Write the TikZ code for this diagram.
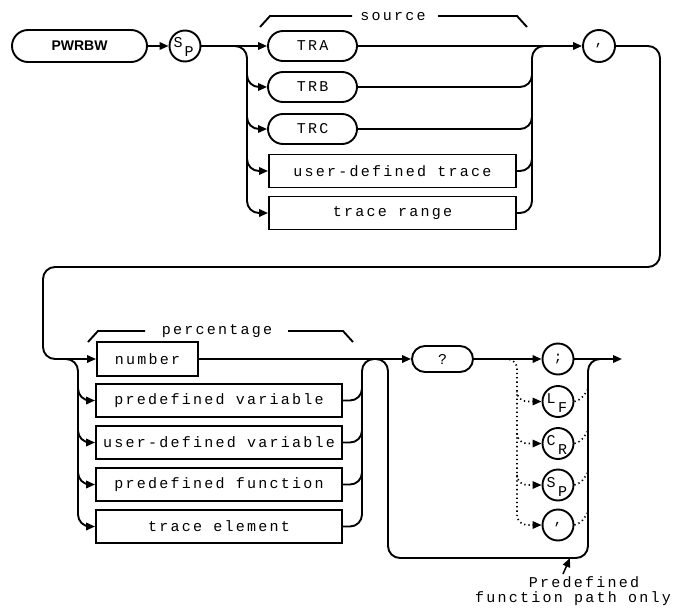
\documentclass[tikz,border=0pt]{standalone}
\usepackage{fontspec}
\usetikzlibrary{arrows.meta,shapes.misc}
\newfontfamily\hp[LetterSpace=15]{Liberation Mono}
\newfontfamily\hpn{Liberation Mono}
\newfontfamily\kwfont{Liberation Sans}
\begin{document}
\begin{tikzpicture}[x=1pt,y=-1pt,line width=1.9pt,
  lbl/.style={font=\hp\fontsize{15}{15}\selectfont},
  box/.style={draw,rectangle,minimum height=33pt,inner sep=0pt,lbl},
  rbox/.style={draw,rounded rectangle,minimum height=30pt,inner sep=0pt,lbl},
  circ/.style={draw,circle,minimum size=31pt,inner sep=0pt,font=\hpn\fontsize{14}{14}\selectfont},
  sym/.style={inner sep=0pt,font=\hpn\fontsize{15}{15}\selectfont},
  arr/.style={-{Triangle[length=9pt,width=7.5pt]}},
  dotln/.style={line width=1.6pt,dash pattern=on 1.3pt off 3pt},
  rc/.style={rounded corners=12pt}]
\useasboundingbox (0,0) rectangle (676,610);

% ---------- top section ----------
\node[draw,rounded rectangle,minimum width=135pt,minimum height=32pt,inner sep=0pt,
      font=\kwfont\bfseries\fontsize{14}{14}\selectfont] (pwrbw) at (79.5,46) {PWRBW};
\node[circ] (sp1) at (185,46) {};
\node[sym] (sp1a) at ([shift={(-7,-3)}]sp1.center) {S};
\node[sym] (sp1b) at ([shift={(4,6)}]sp1.center) {P};
\node[rbox,minimum width=89pt] (tra) at (312.5,46) {TRA};
\node[rbox,minimum width=89pt] (trb) at (312.5,87) {TRB};
\node[rbox,minimum width=89pt] (trc) at (312.5,129) {TRC};
\node[box,minimum width=247pt] (udt) at (392.5,171) {user-defined trace};
\node[box,minimum width=247pt] (trr) at (392.5,213) {trace range};
\node[circ,minimum size=32pt] (cm1) at (599,46) {,};

\node[lbl] (srclbl) at (393,17) {source};
\draw (260,27) -- (270,16) -- (352,16);
\draw (438,16) -- (517,16) -- (527,27);

\draw[arr] (pwrbw) -- (sp1);
\draw[arr] (sp1) -- (tra);
\draw[arr,rc] (235,46) -| (247,213) -- (trr.west);
\draw[arr,rc] (247,75) |- (trb.west);
\draw[arr,rc] (247,117) |- (trc.west);
\draw[arr,rc] (247,159) |- (udt.west);
\draw[rc] (trr.east) -| (532,46) -- (544,46);
\draw[rc] (udt.east) -| (532,159);
\draw[rc] (trc.east) -| (532,117);
\draw[rc] (trb.east) -| (532,75);
\draw[arr] (tra) -- (cm1);

% ---------- bottom section ----------
\node[box,minimum width=101pt,minimum height=34pt] (num) at (147.5,359) {number};
\node[box,minimum width=246pt] (pv) at (219,400.5) {predefined variable};
\node[box,minimum width=246pt] (udv) at (219,442.5) {user-defined variable};
\node[box,minimum width=246pt] (pf) at (219,484.5) {predefined function};
\node[box,minimum width=246pt] (te) at (219,526.5) {trace element};

\node[lbl] (pctlbl) at (217,331) {percentage};
\draw (88,342) -- (98,331) -- (145,331);
\draw (288,331) -- (343,331) -- (353,342);

\draw[arr,rc] (cm1) -| (660,267) -| (43,359) -- (num.west);
\draw[arr,rc] (66,359) -| (78,526.5) -- (te.west);
\draw[arr,rc] (78,388.5) |- (pv.west);
\draw[arr,rc] (78,430.5) |- (udv.west);
\draw[arr,rc] (78,472.5) |- (pf.west);
\draw[rc] (te.east) -| (362,359) -- (374,359);
\draw[rc] (pf.east) -| (362,472.5);
\draw[rc] (udv.east) -| (362,430.5);
\draw[rc] (pv.east) -| (362,388.5);

\node[rbox,minimum width=61pt,minimum height=26pt] (q) at (442.5,359) {?};
\node[circ] (semi) at (558,359) {;};
\node[circ] (lf) at (558,401.5) {};
\node[sym] (lfa) at ([shift={(-7,-2.5)}]lf.center) {L};
\node[sym] (lfb) at ([shift={(4.5,6.5)}]lf.center) {F};
\node[circ] (cr) at (558,443.5) {};
\node[sym] (cra) at ([shift={(-7,-2.5)}]cr.center) {C};
\node[sym] (crb) at ([shift={(4.5,6.5)}]cr.center) {R};
\node[circ] (sp2) at (558,485) {};
\node[sym] (sp2a) at ([shift={(-7,-2.5)}]sp2.center) {S};
\node[sym] (sp2b) at ([shift={(4.5,6.5)}]sp2.center) {P};
\node[circ] (cm2) at (558,525) {,};
\coordinate (endpt) at (622,359);

\draw[arr] (num) -- (q);
\draw[arr] (q) -- (semi);
\draw[arr] (semi) -- (endpt);
\draw[rc] (376,359) -| (388,558) -| (588,359) -- (600,359);

\draw[dotln,arr,rounded corners=10pt] (505,359) -| (517,525) -- (cm2.west);
\draw[dotln,arr,rounded corners=10pt] (517,392) |- (lf.west);
\draw[dotln,arr,rounded corners=10pt] (517,433.5) |- (cr.west);
\draw[dotln,arr,rounded corners=10pt] (517,475) |- (sp2.west);
\draw[dotln] (lf.east) to[out=15,in=-120] (588,389);
\draw[dotln] (cr.east) to[out=15,in=-120] (588,430.5);
\draw[dotln] (sp2.east) to[out=15,in=-120] (588,472);
\draw[dotln] (cm2.east) to[out=15,in=-120] (588,512);

\node[lbl] (ann1) at (584,582) {Predefined};
\node[lbl] (ann2) at (573,599) {function path only};
\coordinate (anntip) at (570,558);
\draw[arr,line width=1.5pt] (563,574) -- (anntip);
\end{tikzpicture}
\end{document}
